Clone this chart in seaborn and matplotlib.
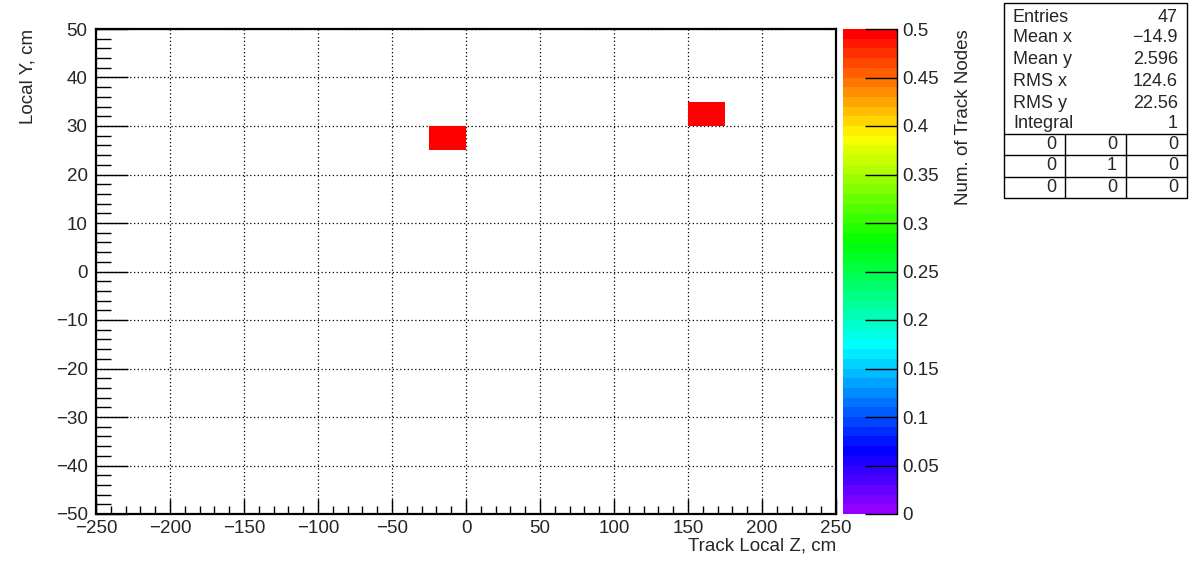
import colorsys
import numpy as np
import pandas as pd
import matplotlib
matplotlib.use('Agg')
import matplotlib.pyplot as plt
from matplotlib.colors import ListedColormap
from matplotlib.ticker import MultipleLocator, AutoMinorLocator
import seaborn as sns

# filled bins (bin centres) and their contents
z_local = [-12.5, 162.5]
y_local = [27.5, 32.5]
nodes = [0.5, 0.5]

stat_names = ['Entries', 'Mean x', 'Mean y', 'RMS x', 'RMS y', 'Integral']
stat_values = ['47', '\u221214.9', '2.596', '124.6', '22.56', '1']
overflow = [[0, 0, 0], [0, 1, 0], [0, 0, 0]]

sns.set_style('white')
plt.rcParams['font.family'] = ['Liberation Sans', 'DejaVu Sans']
plt.rcParams['font.size'] = 13.5

# ROOT "pretty" palette: 50 colours, hue 274 -> 0
pal = [colorsys.hls_to_rgb((280 - (i + 1) * 280 / 50) / 360, 0.5, 1.0) for i in range(50)]
cmap = ListedColormap(pal)

df = pd.DataFrame({'z': z_local, 'y': y_local, 'w': nodes})

W, H = 1196, 572
fig = plt.figure(figsize=(W / 100, H / 100), dpi=100)
ax = fig.add_axes([96 / W, 1 - 514 / H, 740 / W, 485 / H])
cax = fig.add_axes([843 / W, 1 - 514 / H, 54 / W, 485 / H])

sns.histplot(data=df, x='z', y='y', weights='w', binwidth=(25, 5),
             binrange=((-250, 250), (-50, 50)), cmap=cmap, vmin=0, vmax=0.5,
             cbar=True, cbar_ax=cax, ax=ax)

ax.set_xlim(-250, 250)
ax.set_ylim(-50, 50)
ax.set_xlabel('')
ax.set_ylabel('')
ax.xaxis.set_major_locator(MultipleLocator(50))
ax.xaxis.set_minor_locator(AutoMinorLocator(5))
ax.yaxis.set_major_locator(MultipleLocator(10))
ax.yaxis.set_minor_locator(AutoMinorLocator(5))
ax.tick_params(axis='x', which='major', direction='in', length=11, width=1, pad=4,
               labelsize=13.5, bottom=True, color='black')
ax.tick_params(axis='x', which='minor', direction='in', length=6, width=1, bottom=True, color='black')
ax.tick_params(axis='y', which='major', direction='in', length=23, width=1, pad=6,
               labelsize=13.5, left=True, color='black')
ax.tick_params(axis='y', which='minor', direction='in', length=11, width=1, left=True, color='black')
ax.set_axisbelow(True)
ax.grid(True, which='major', color='black', linestyle=(0, (1, 2)), linewidth=0.9)
for s in ax.spines.values():
    s.set_linewidth(1.6)
    s.set_color('black')

cticks = np.round(np.arange(0, 0.501, 0.05), 2)
cax.set_axisbelow(False)
cax.set_yticks(cticks)
cax.set_yticklabels([f'{v:g}' for v in cticks])
cax.tick_params(axis='y', which='major', direction='in', length=23, width=1, pad=4,
                right=True, left=False, labelsize=13.5, color='black')
cax.tick_params(axis='y', which='minor', length=0)
for s in cax.spines.values():
    s.set_visible(False)
cax.plot([1, 1], [0, 1], color='black', lw=1, transform=cax.transAxes, clip_on=False)

fig.text(28 / W, 1 - 29 / H, 'Local Y, cm', rotation=90, ha='center', va='top', fontsize=13.5)
fig.text(836 / W, 1 - 546 / H, 'Track Local Z, cm', ha='right', va='center', fontsize=13.5)
fig.text(963 / W, 1 - 29 / H, 'Num. of Track Nodes', rotation=90, ha='center', va='top', fontsize=13.5)

# statistics box
bx0, bx1, by0, by1 = 1004, 1187, 3, 198
fig.patches.append(plt.Rectangle((bx0 / W, 1 - by1 / H), (bx1 - bx0) / W, (by1 - by0) / H,
                                 transform=fig.transFigure, fill=True, facecolor='white',
                                 edgecolor='black', lw=1))
row_y = [17, 38, 60, 82, 103, 124]
for name, val, yy in zip(stat_names, stat_values, row_y):
    fig.text(1013 / W, 1 - yy / H, name, ha='left', va='center', fontsize=13)
    fig.text(1178 / W, 1 - yy / H, val, ha='right', va='center', fontsize=13)
grid_top = 134
row_h = (by1 - grid_top) / 3
for k in range(3):
    yl = grid_top + k * row_h
    fig.add_artist(plt.Line2D([bx0 / W, bx1 / W], [1 - yl / H, 1 - yl / H], color='black', lw=1))
col_x = [bx0, 1065, 1126, bx1]
for xc in col_x[1:3]:
    fig.add_artist(plt.Line2D([xc / W, xc / W], [1 - grid_top / H, 1 - by1 / H], color='black', lw=1))
for r in range(3):
    for c in range(3):
        fig.text((col_x[c + 1] - 9) / W, 1 - (grid_top + (r + 0.5) * row_h) / H,
                 str(overflow[r][c]), ha='right', va='center', fontsize=13)

fig.savefig('out.png', dpi=100)
